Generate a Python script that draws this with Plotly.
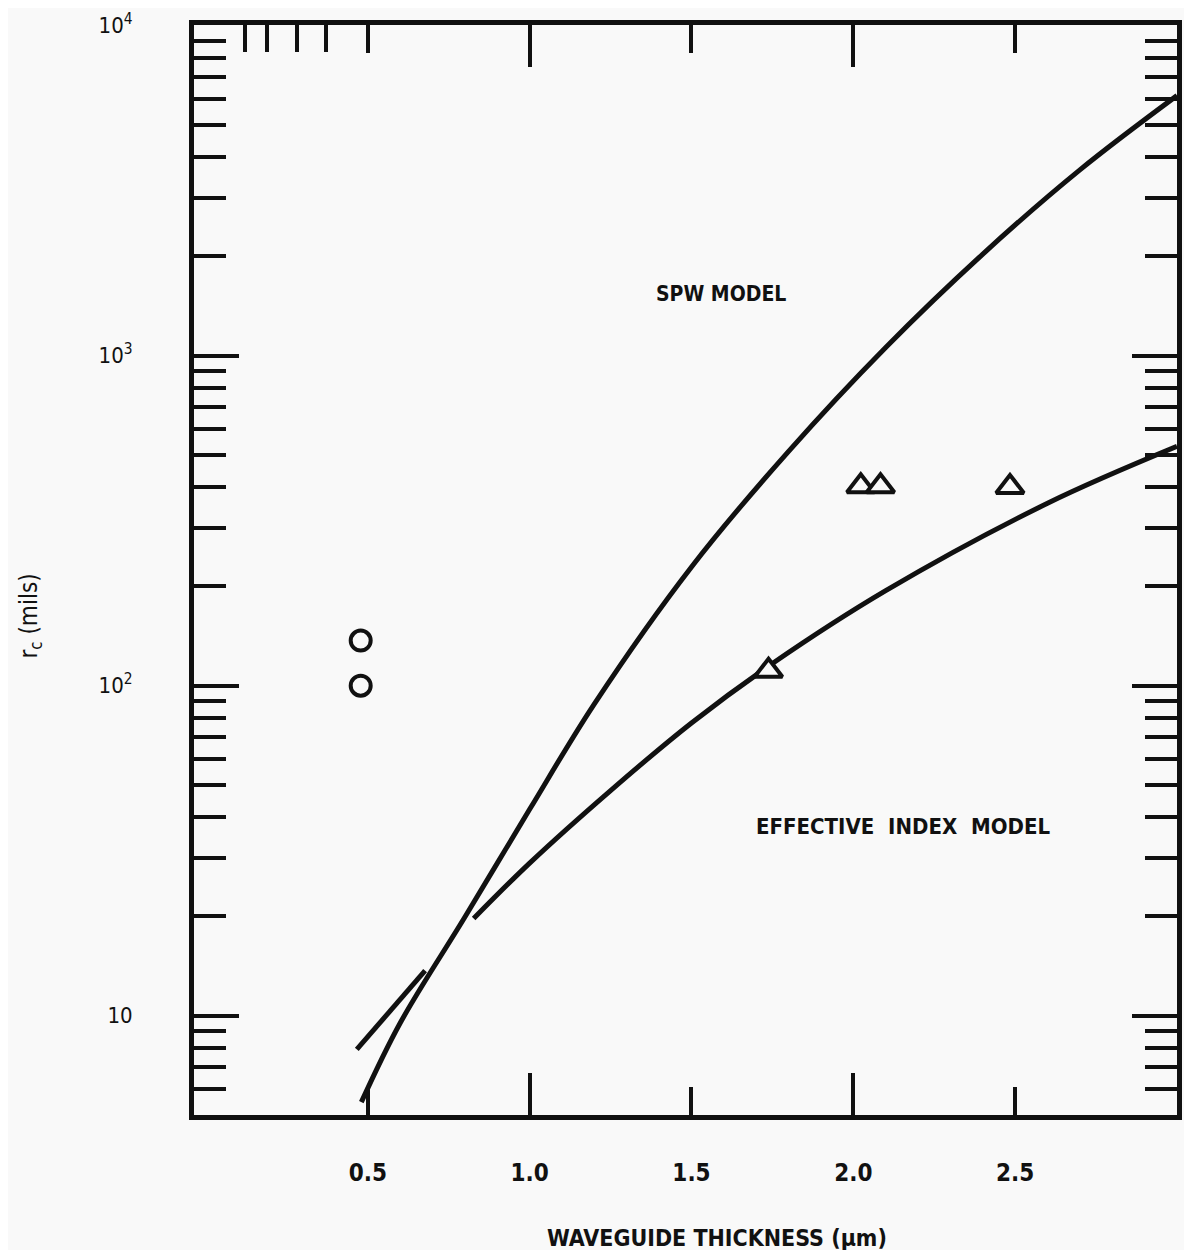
import plotly.graph_objects as go

# --- data (hand-smoothed readings) ---
spw_x = [0.48, 0.60, 0.80, 1.0, 1.2, 1.5, 1.8, 2.1, 2.4, 2.7, 3.0]
spw_y = [5.47, 9.5, 19.9, 42.2, 88.1, 229, 513, 1059, 2032, 3656, 6138]

ei_x = [0.827, 1.0, 1.25, 1.5, 1.75, 2.1, 2.6, 3.0]
ei_y = [19.7, 29.0, 48.1, 77.1, 116.7, 194, 357, 531]

ei_low_x = [0.466, 0.677]
ei_low_y = [7.9, 13.7]

circ_x = [0.478, 0.478]
circ_y = [100, 137]

tri_x = [1.738, 2.023, 2.084, 2.484]
tri_y = [111, 402, 402, 400]

x_ticks = [0.5, 1.0, 1.5, 2.0, 2.5]
x_ticktext = ["0.5", "1.0", "1.5", "2.0", "2.5"]
x_long_ticks = [1.0, 2.0]
x_top_extra = [0.12, 0.19, 0.28, 0.37]

y_ticks = [10, 100, 1000, 10000]
y_ticktext = ["10", "10<sup>2</sup>", "10<sup>3</sup>", "10<sup>4</sup>"]
y_minor = [m * d for d in (1, 10, 100, 1000) for m in range(2, 10) if m * d > 5]

INK = "#111111"
BG = "#f9f9f9"
FONT = "DejaVu Sans Condensed"
NB = "\u00a0"

fig = go.Figure()
line_style = dict(color=INK, width=5)
fig.add_trace(go.Scatter(x=spw_x, y=spw_y, mode="lines", line=dict(line_style, shape="spline", smoothing=1.0),
                         showlegend=False, hoverinfo="skip"))
fig.add_trace(go.Scatter(x=ei_x, y=ei_y, mode="lines", line=dict(line_style, shape="spline", smoothing=1.0),
                         showlegend=False, hoverinfo="skip"))
fig.add_trace(go.Scatter(x=ei_low_x, y=ei_low_y, mode="lines", line=line_style,
                         showlegend=False, hoverinfo="skip"))
fig.add_trace(go.Scatter(x=circ_x, y=circ_y, mode="markers",
                         marker=dict(symbol="circle", size=20, color=BG, line=dict(color=INK, width=4)),
                         showlegend=False, hoverinfo="skip"))
fig.add_trace(go.Scatter(x=tri_x, y=tri_y, mode="markers",
                         marker=dict(symbol="triangle-up", size=24, color=BG, line=dict(color=INK, width=4)),
                         showlegend=False, hoverinfo="skip"))
# empty traces to register the overlay axes
fig.add_trace(go.Scatter(x=[], y=[], xaxis="x2", yaxis="y", showlegend=False, hoverinfo="skip"))
fig.add_trace(go.Scatter(x=[], y=[], xaxis="x3", yaxis="y", showlegend=False, hoverinfo="skip"))

xr = [-0.037, 3.0]
fig.update_layout(
    width=1176, height=1242,
    margin=dict(l=186, r=2, t=15, b=135),
    paper_bgcolor=BG, plot_bgcolor=BG,
    font=dict(family=FONT, color=INK),
    xaxis=dict(range=xr, tickmode="array", tickvals=x_ticks, ticktext=x_ticktext,
               ticks="inside", ticklen=28, tickwidth=4, tickcolor=INK,
               showline=True, linewidth=5, linecolor=INK, mirror="ticks",
               showgrid=False, zeroline=False, ticklabelstandoff=32,
               tickfont=dict(family=FONT, size=24, color=INK, weight="bold")),
    xaxis2=dict(range=xr, overlaying="x", anchor="y", side="top", tickmode="array",
                tickvals=x_top_extra, ticks="inside", ticklen=27, tickwidth=4, tickcolor=INK,
                showticklabels=False, showline=False, showgrid=False, zeroline=False),
    xaxis3=dict(range=xr, overlaying="x", anchor="y", side="bottom", tickmode="array",
                tickvals=x_long_ticks, ticks="inside", ticklen=42, tickwidth=4, tickcolor=INK,
                showticklabels=False, showline=False, mirror="ticks", showgrid=False, zeroline=False),
    yaxis=dict(type="log", range=[0.699, 4.002], tickmode="array", tickvals=y_ticks, ticktext=y_ticktext,
               ticks="inside", ticklen=45, tickwidth=4, tickcolor=INK,
               minor=dict(tickmode="array", tickvals=y_minor, ticks="inside", ticklen=32,
                          tickwidth=4, tickcolor=INK, showgrid=False),
               showline=True, linewidth=5, linecolor=INK, mirror="ticks",
               showgrid=False, zeroline=False, ticklabelstandoff=52,
               tickfont=dict(family=FONT, size=22, color=INK)),
    annotations=[
        dict(text="SPW MODEL", x=1.59, y=3.186, xref="x", yref="y", showarrow=False,
             font=dict(family=FONT, size=21, color=INK, weight="bold")),
        dict(text=f"EFFECTIVE{NB}{NB}INDEX{NB}{NB}MODEL", x=2.153, y=1.573, xref="x", yref="y", showarrow=False,
             font=dict(family=FONT, size=22, color=INK, weight="bold")),
        dict(text="WAVEGUIDE THICKNESS (μm)", x=0.532, y=-0.113, xref="paper", yref="paper",
             xanchor="center", yanchor="middle", showarrow=False,
             font=dict(family=FONT, size=23, color=INK, weight="bold")),
        dict(text="r<sub>c</sub> (mils)", x=-0.166, y=0.458, xref="paper", yref="paper",
             xanchor="center", yanchor="middle", textangle=-90, showarrow=False,
             font=dict(family=FONT, size=24, color=INK)),
    ],
)

fig.write_html("out.html")
